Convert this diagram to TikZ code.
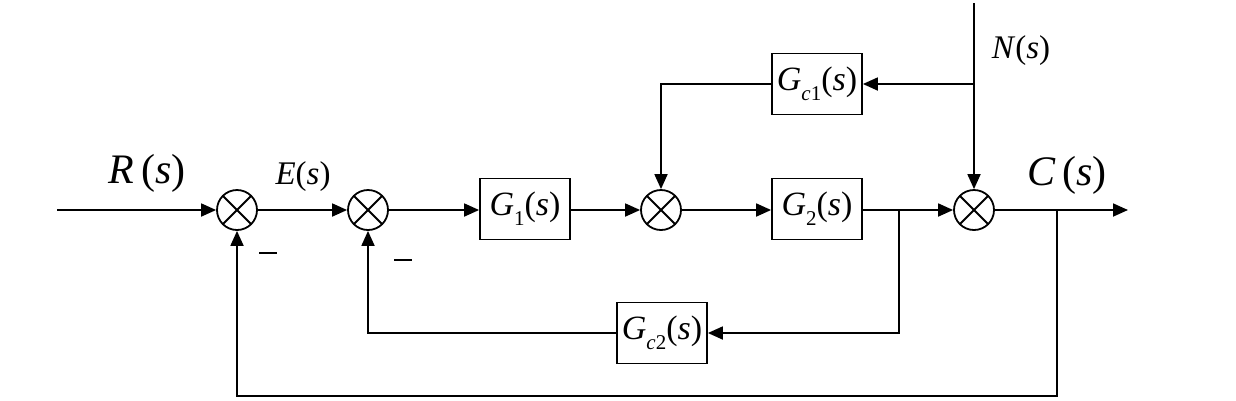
\documentclass[tikz,border=0pt]{standalone}
\usepackage{fontspec}
\setmainfont{Liberation Serif}
\usetikzlibrary{arrows.meta}
\newcommand\subx[1]{\raisebox{-0.3em}{\fontsize{21}{21}\selectfont #1}}
\tikzset{
  blk/.style={draw,line width=1.8pt,minimum width=90pt,minimum height=61pt,inner sep=0pt,font=\fontsize{34}{34}\selectfont},
  sumj/.style={circle,draw,line width=1.8pt,minimum size=40pt,inner sep=0pt,
    path picture={\draw[line width=1.8pt] (path picture bounding box.center) ++(45:20pt) -- ++(225:40pt);
                  \draw[line width=1.8pt] (path picture bounding box.center) ++(135:20pt) -- ++(-45:40pt);}},
  wire/.style={line width=1.8pt},
  sig/.style={wire,-{Triangle[length=15pt,width=13pt]}},
  lab/.style={inner sep=0pt,font=\fontsize{33}{33}\selectfont},
  biglab/.style={inner sep=0pt,font=\fontsize{42}{42}\selectfont},
}
\begin{document}
\begin{tikzpicture}[x=1pt,y=-1pt]
\useasboundingbox (0,0) rectangle (1236,400);
\node[sumj] (s1) at (237,210) {};
\node[sumj] (s2) at (368,210) {};
\node[blk] (g1) at (525,209) {\textit{G}\subx{1}(\textit{s})};
\node[sumj] (s3) at (661,210) {};
\node[blk] (g2) at (817,209) {\textit{G}\subx{2}(\textit{s})};
\node[sumj] (s4) at (974,210) {};
\node[blk] (gc1) at (817,84) {\textit{G}\subx{\textit{c}1}(\textit{s})};
\node[blk] (gc2) at (662,333) {\textit{G}\subx{\textit{c}2}(\textit{s})};
\coordinate (in) at (57,210);
\coordinate (out) at (1128,210);
\coordinate (b1) at (899,210);
\coordinate (b2) at (1057,210);
\coordinate (b1d) at (899,333);
\coordinate (s2d) at (368,333);
\coordinate (b2d) at (1057,396);
\coordinate (s1d) at (237,396);
\coordinate (ntop) at (974,3);
\coordinate (nb) at (974,84);
\coordinate (s3u) at (661,84);

\draw[sig] (in) -- (s1.west);
\draw[sig] (s1.east) -- (s2.west);
\draw[sig] (s2.east) -- (g1.west |- s2.east);
\draw[sig] (g1.east |- s3.west) -- (s3.west);
\draw[sig] (s3.east) -- (g2.west |- s3.east);
\draw[sig] (g2.east |- s4.west) -- (s4.west);
\draw[sig] (s4.east) -- (out);
\draw[sig] (b1) -- (b1d) -- (gc2.east);
\draw[sig] (gc2.west) -- (s2d) -- (s2.south);
\draw[sig] (b2) -- (b2d) -- (s1d) -- (s1.south);
\draw[sig] (ntop) -- (s4.north);
\draw[sig] (nb) -- (gc1.east);
\draw[sig] (gc1.west) -- (s3u) -- (s3.north);

\node[biglab] (lR) at (147,173) {\textit{R}\,(\textit{s})};
\node[lab] (lE) at (303,177) {\textit{E}(\textit{s})};
\node[biglab] (lC) at (1067,175) {\textit{C}\,(\textit{s})};
\node[lab] (lN) at (1021,51) {\textit{N}(\textit{s})};
\node[lab] (m1) at (268,257) {\rule[0.25em]{18pt}{2pt}};
\node[lab] (m2) at (403,264) {\rule[0.25em]{18pt}{2pt}};
\end{tikzpicture}
\end{document}
